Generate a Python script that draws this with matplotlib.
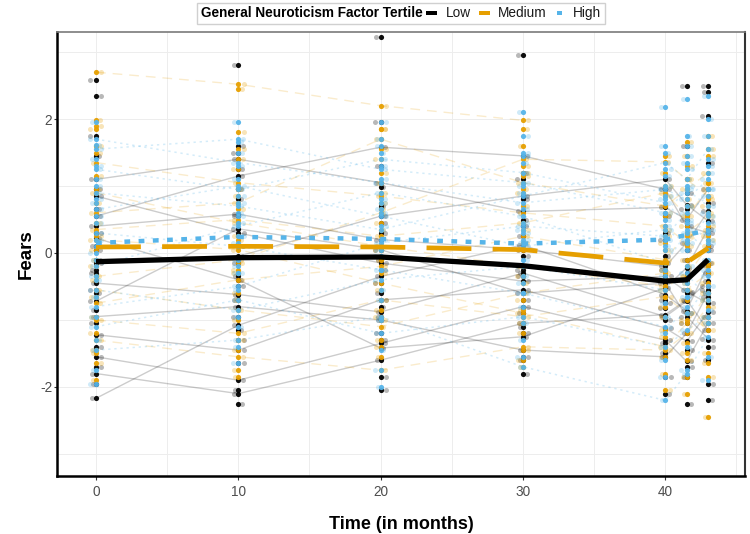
import numpy as np
import matplotlib
matplotlib.use("Agg")
import matplotlib.pyplot as plt
from matplotlib.offsetbox import AnchoredOffsetbox, HPacker, TextArea, DrawingArea
from matplotlib.patches import Rectangle

plt.rcParams['font.family'] = ['Liberation Sans', 'DejaVu Sans']
plt.rcParams['axes.unicode_minus'] = False

nan = np.nan

# ---------------- data ----------------
times = [0, 10, 20, 30, 40, 41.5, 43]
groups = ["Low", "Medium", "High"]
colors = ["#000000", "#E69F00", "#56B4E9"]
legend_title = "General Neuroticism Factor Tertile"

# group mean trajectories
mean_low = [-0.13, -0.07, -0.06, -0.19, -0.42, -0.40, -0.10]
mean_medium = [0.09, 0.10, 0.09, 0.05, -0.15, -0.14, 0.07]
mean_high = [0.15, 0.24, 0.21, 0.14, 0.20, 0.27, 0.34]

# individual scores (rows = participants, columns = times)
low_scores = [
    [1.10, 1.40, 1.05, 0.62, 0.68, 0.50, 0.95],
    [0.55, 1.15, 1.58, 1.45, 0.95, 0.40, 0.30],
    [-0.45, -0.62, -0.88, -0.30, -0.95, -0.72, -0.42],
    [-1.22, -1.45, -0.70, -0.55, -1.12, -1.32, -0.88],
    [-2.17, -1.08, -0.35, 0.12, -0.62, -0.86, -0.18],
    [0.22, -0.40, -1.42, -1.25, -0.52, -0.22, 0.36],
    [-0.72, 0.36, 0.05, -0.60, -0.45, -0.95, -1.28],
    [-1.55, -1.90, -1.35, -0.80, -1.30, -1.62, -1.05],
    [0.40, 0.58, 0.20, 0.05, -0.20, 0.15, 0.62],
    [-0.10, -0.05, 0.55, 0.85, 1.10, 0.72, 0.48],
    [-0.95, -0.80, -1.00, -1.45, -1.55, -1.20, -0.60],
    [0.85, 0.30, -0.15, -0.42, -0.35, -0.58, -0.75],
    [-1.80, -2.10, -1.60, -1.05, -0.92, -0.70, -1.15],
    [1.45, 0.95, 0.70, 1.20, 0.30, 0.05, -0.15],
    [2.58, nan, nan, nan, nan, nan, 2.05],
    [2.35, 1.60, nan, nan, nan, nan, nan],
    [-0.30, 2.80, 3.22, 2.95, nan, 2.50, 2.50],
    [0.05, -2.25, -1.30, -1.80, -2.10, -2.25, -2.20],
    [-1.95, -2.05, -0.95, -1.10, -1.50, -1.85, -1.60],
    [-1.70, -1.30, -1.85, -1.20, -1.85, -1.45, -1.40],
    [-0.25, -0.15, -0.60, -0.90, -0.70, -0.55, -0.95],
    [0.65, 0.80, 0.98, 0.40, -0.05, -0.30, 0.10],
    [-0.55, -0.95, -0.45, -0.25, -0.82, -1.05, -0.50],
    [0.30, 0.10, -0.25, -0.70, -1.00, -0.60, 0.75],
    [-1.05, -0.70, -1.20, -0.35, -0.25, -0.40, -0.65],
    [0.95, 1.25, 0.45, 0.80, 0.55, 0.90, 1.35],
    [-0.85, -0.35, -0.10, -1.60, -1.35, -0.10, -0.30],
    [-1.40, -1.65, -2.05, -1.55, -0.40, -1.70, -1.95],
    [0.10, 0.55, 1.30, 0.25, 0.95, 1.60, 2.40],
    [-0.60, -1.15, -0.80, 0.50, -0.15, -0.35, 0.05],
    [1.75, 1.50, 1.95, 1.10, 0.20, 0.65, -0.55],
    [-0.15, -0.50, 0.30, -0.05, -0.75, -0.90, -1.30],
]

medium_scores = [
    [2.70, 2.52, 2.20, 1.98, nan, nan, nan],
    [0.90, 0.45, 0.10, -0.20, -0.50, -0.35, 0.10],
    [-0.35, -0.10, 0.60, 1.40, 1.36, 1.10, 0.85],
    [0.20, 0.05, -0.45, -0.90, -1.40, -1.05, -0.60],
    [-1.30, -1.55, -1.75, -1.40, -1.45, -1.20, -0.80],
    [0.60, 0.75, 1.70, 1.05, 0.70, 0.95, 1.20],
    [-0.75, -0.40, -0.20, 0.25, -0.10, 0.30, 0.55],
    [1.35, 1.05, 0.85, 0.60, 0.40, 0.15, 0.35],
    [-1.00, -1.20, -0.70, -0.95, -0.65, -0.90, -1.15],
    [0.35, 0.50, 0.25, 0.45, 0.90, 0.55, 0.95],
    [-0.55, -0.85, -1.10, -0.60, -0.30, -0.55, -0.30],
    [1.85, 1.25, 1.40, 0.90, 0.15, 0.40, 0.70],
    [-1.65, -1.30, -1.00, -1.45, -2.05, -1.60, -1.85],
    [0.05, 0.25, 0.45, 0.05, -0.25, -0.10, 0.25],
    [1.98, 2.45, 1.85, 1.85, 1.45, 1.65, 1.75],
    [-1.90, -1.85, -1.55, -1.70, -1.80, -2.10, -2.45],
    [1.60, 1.55, 1.20, 1.30, 1.00, 1.30, 1.55],
    [-1.45, -1.75, -1.30, -1.20, -1.55, -1.85, -1.50],
    [0.75, 0.95, 0.65, 0.95, 0.55, 0.80, 1.05],
    [-0.20, -0.30, 0.05, -0.35, -0.55, -0.70, -0.45],
    [1.15, 0.65, 0.90, 1.15, 0.85, 0.55, 0.40],
    [-0.95, -0.60, -0.85, -0.20, -0.95, -0.35, -0.95],
    [0.45, 0.10, -0.30, 0.70, 0.25, 0.10, -0.15],
    [-0.10, 0.85, 1.05, 1.60, 1.20, 1.45, 1.05],
    [1.90, 1.80, 1.55, 0.35, -0.40, 0.70, 0.20],
    [-0.40, -1.00, -0.55, -1.05, -1.15, -1.35, -1.65],
    [0.95, 0.20, 0.35, -0.45, 0.05, -0.20, 0.60],
    [-1.20, -0.25, -0.95, -0.70, -0.80, -1.00, -0.70],
    [0.25, 1.40, 1.85, 1.20, 0.60, 1.10, 1.45],
    [-0.65, -1.45, -1.40, -1.60, -1.25, -1.50, -1.05],
    [1.50, -0.15, 0.75, 0.15, 0.35, 0.25, 0.80],
    [-1.50, -0.70, -0.10, -0.85, -0.65, -0.45, -0.20],
]

high_scores = [
    [1.70, 1.35, 1.05, 0.75, 0.95, 0.80, 1.10],
    [0.30, 0.10, -0.25, -0.60, -1.10, -0.90, -0.50],
    [-0.80, -0.50, 0.15, 0.40, 0.25, 0.60, 0.85],
    [1.25, 0.95, 1.40, 1.20, 0.75, 0.45, 0.20],
    [-1.45, -1.30, -0.95, -1.70, -2.20, -1.80, -1.25],
    [0.65, 1.00, 0.55, 0.10, 0.35, 0.15, 0.55],
    [-0.20, 0.40, 0.90, 0.55, -0.15, 0.30, 0.05],
    [0.90, 0.70, 0.35, 0.85, 1.35, 1.10, 1.55],
    [-0.55, -0.85, -0.40, -0.20, -0.55, -0.30, -0.70],
    [1.55, 1.70, 1.25, 1.05, 0.60, 0.95, 0.70],
    [-1.10, -0.70, -1.20, -0.95, -1.40, -1.15, -0.95],
    [0.10, -0.30, 0.20, -0.10, 0.50, 0.70, 0.95],
    [-1.75, -1.40, -2.00, -1.30, -1.20, -0.80, -0.60],
    [0.45, 0.75, 1.10, 1.50, 0.85, 1.25, 1.40],
    [1.95, 1.95, 1.70, 2.10, 2.18, 2.30, 2.35],
    [1.62, 1.65, 1.50, 1.35, 1.50, 1.75, 2.00],
    [-1.95, -1.65, -1.75, -1.55, -1.85, -1.75, -1.90],
    [0.80, 0.55, 0.75, 0.30, 0.20, 0.50, 0.35],
    [-0.35, -0.10, 0.05, -0.45, -0.35, 0.05, -0.25],
    [1.10, 1.30, 0.80, 0.65, 1.15, 1.45, 1.20],
    [-0.65, -0.95, -0.70, -0.80, -0.75, -0.55, -1.05],
    [0.20, 0.25, 0.40, 0.20, 0.05, -0.20, 0.15],
    [1.40, 1.10, 1.60, 0.90, 1.60, 1.35, 1.75],
    [-1.30, -1.10, -1.45, -1.05, -0.95, -1.40, -1.55],
    [0.00, 0.15, -0.05, 0.35, 0.80, 0.90, 0.60],
    [0.55, 0.45, 1.30, 1.75, 1.00, 0.35, 0.45],
    [-0.95, -0.30, -0.25, -0.60, -1.60, -0.65, -0.35],
    [1.00, 1.50, 0.60, 0.45, 0.40, 1.60, 1.30],
    [-0.10, -0.55, -1.00, 0.15, -0.25, -0.45, 0.30],
    [1.30, 0.85, 1.95, 1.45, 1.25, 1.00, 0.95],
    [0.75, -0.20, 0.65, 1.00, 0.60, 0.20, -0.10],
    [-0.40, 0.60, -0.55, -0.35, 0.10, -0.65, -0.85],
]

n_with_lines = [13, 11, 11]  # participants drawn as spaghetti lines per group

# ---------------- styles ----------------
indiv_styles = [
    dict(ls="-", lw=1.0, alpha=0.2),
    dict(ls=(0, (7, 5)), lw=1.0, alpha=0.2),
    dict(ls=(0, (1.5, 2.5)), lw=1.1, alpha=0.25),
]
mean_styles = [
    dict(ls="-", lw=3.8),
    dict(ls=(0, (9.5, 4.5)), lw=3.4),
    dict(ls=(0, (1.3, 1.9)), lw=3.2),
]
jitter_offsets = [-0.32, 0.28, -0.22, 0.38, -0.28, 0.18, -0.40, 0.33]

PX = 72 / 100  # one pixel in points

# ---------------- figure ----------------
fig = plt.figure(figsize=(7.5, 5.34), dpi=100)
ax = fig.add_axes([57 / 750, 1 - 476 / 534, (745 - 57) / 750, (476 - 32) / 534])

t = np.array(times, dtype=float)
all_scores = [np.array(low_scores, dtype=float),
              np.array(medium_scores, dtype=float),
              np.array(high_scores, dtype=float)]
all_means = [mean_low, mean_medium, mean_high]

# spaghetti lines
for g, sc in enumerate(all_scores):
    for i in range(min(n_with_lines[g], len(sc))):
        row = sc[i]
        ok = ~np.isnan(row)
        ax.plot(t[ok], row[ok], color=colors[g], solid_capstyle="butt",
                dash_capstyle="butt", zorder=2, **indiv_styles[g])

# jittered faint points
for g, sc in enumerate(all_scores):
    for i, row in enumerate(sc):
        ok = ~np.isnan(row)
        off = jitter_offsets[(i + 3 * g) % len(jitter_offsets)]
        ax.scatter(t[ok] + off, row[ok], s=13, color=colors[g], alpha=0.28,
                   linewidths=0, zorder=3)

# solid points at observed times
for g, sc in enumerate(all_scores):
    for i, row in enumerate(sc):
        ok = ~np.isnan(row)
        ax.scatter(t[ok], row[ok], s=14, color=colors[g], alpha=0.95,
                   linewidths=0, zorder=4)

# group means
for g in range(3):
    ax.plot(t, all_means[g], color=colors[g], solid_capstyle="butt",
            dash_capstyle="butt", solid_joinstyle="miter", zorder=6,
            **mean_styles[g])

# axes styling
ax.set_xlim(-2.74, 45.6)
ax.set_ylim(-3.33, 3.30)
ax.set_xticks([0, 10, 20, 30, 40])
ax.set_xticks([5, 15, 25, 35, 45], minor=True)
ax.set_yticks([-2, 0, 2])
ax.set_yticks([-3, -1, 1, 3], minor=True)
ax.grid(True, which="both", color="#EDEDED", lw=0.7, zorder=0)
ax.set_axisbelow(True)
ax.tick_params(which="major", length=3, width=0.8, color="#333333",
               labelcolor="#4D4D4D", labelsize=9.8)
ax.tick_params(axis="y", which="major", length=2, pad=1.5)
ax.tick_params(which="minor", length=0)
for side in ["left", "bottom"]:
    ax.spines[side].set_color("black")
    ax.spines[side].set_linewidth(1.8)
ax.spines["top"].set_color("#7A7A7A")
ax.spines["top"].set_linewidth(1.2)
ax.spines["right"].set_color("#333333")
ax.spines["right"].set_linewidth(1.5)

ax.set_ylabel("Fears", fontsize=13.5, fontweight="bold", labelpad=4)
ax.set_xlabel("Time (in months)", fontsize=13, fontweight="bold", labelpad=12)

# legend (title on the left, keys in one row)
def spacer(px):
    return DrawingArea(px * PX, 1, 0, 0)

children = [TextArea(legend_title, textprops=dict(fontsize=9.8, fontweight="bold")),
            spacer(4)]
key_w = [11, 11, 5]
for g in range(3):
    slot = 11 * PX
    da = DrawingArea(slot, 10 * PX, 0, 0)
    w = key_w[g] * PX
    da.add_artist(Rectangle(((slot - w) / 2, 3 * PX), w, 4 * PX,
                            facecolor=colors[g], edgecolor="none"))
    children.append(da)
    children.append(spacer(8))
    children.append(TextArea(groups[g], textprops=dict(fontsize=9.8, color="#1A1A1A")))
    if g < 2:
        children.append(spacer(8))
pack = HPacker(children=children, align="center", pad=0, sep=0)
box = AnchoredOffsetbox(loc="upper center", child=pack, pad=0.25, borderpad=0.1,
                        frameon=True, bbox_to_anchor=(401 / 750, 0.997),
                        bbox_transform=fig.transFigure)
box.patch.set_edgecolor("#D0D0D0")
box.patch.set_linewidth(1.0)
box.patch.set_boxstyle("square", pad=0)
fig.add_artist(box)

fig.savefig("out.png", dpi=100)
